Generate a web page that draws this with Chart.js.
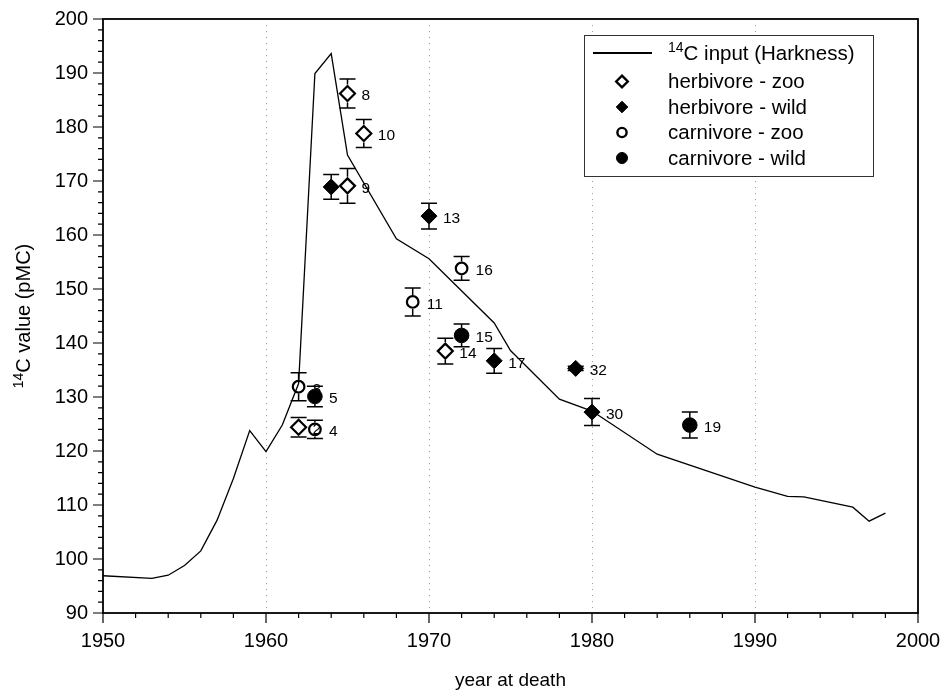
<!DOCTYPE html>
<html><head><meta charset="utf-8">
<script src="https://cdn.jsdelivr.net/npm/chart.js@4"></script>
<style>html,body{margin:0;padding:0;background:#fff}#wrap{width:943px;height:692px;position:relative}</style>
</head><body><div id="wrap"><canvas id="c"></canvas></div>
<script>
// Harkness 14C input curve
const harknessYears  = [1950,1953,1954,1955,1956,1957,1958,1959,1960,1961,1962,1963,1964,1965,1968,1970,1974,1975,1978,1980,1984,1990,1992,1993,1996,1997,1998];
const harknessValues = [96.9,96.4,97.0,98.8,101.5,107.2,114.9,123.8,119.9,124.8,132.5,189.9,193.6,174.8,159.3,155.6,143.7,138.6,129.6,127.4,119.4,113.3,111.6,111.5,109.6,107.0,108.5];

// herbivore - zoo (open diamond)
const hzYears  = [1962,1965,1965,1966,1971];
const hzValues = [124.4,186.2,169.1,178.8,138.5];
const hzErrors = [1.8,2.7,3.2,2.6,2.4];
const hzLabels = ['2','8','9','10','14'];

// herbivore - wild (filled diamond)
const hwYears  = [1964,1970,1974,1979,1980];
const hwValues = [168.9,163.5,136.7,135.3,127.2];
const hwErrors = [2.3,2.4,2.3,0.4,2.5];
const hwLabels = ['','13','17','32','30'];

// carnivore - zoo (open circle)
const czYears  = [1962,1963,1969,1972];
const czValues = [131.9,124.0,147.6,153.8];
const czErrors = [2.6,1.7,2.6,2.2];
const czLabels = ['3','4','11','16'];

// carnivore - wild (filled circle)
const cwYears  = [1963,1972,1986];
const cwValues = [130.1,141.4,124.8];
const cwErrors = [1.9,2.1,2.4];
const cwLabels = ['5','15','19'];

const xTicks = [1950,1960,1970,1980,1990,2000];
const yTicks = [90,100,110,120,130,140,150,160,170,180,190,200];

const FONT = '"Liberation Sans", Arial, sans-serif';

function pts(xs, ys){ return xs.map((x,i)=>({x:x,y:ys[i]})); }

const series = [
  {label:'herbivore - zoo', xs:hzYears, ys:hzValues, err:hzErrors, lab:hzLabels, style:'rectRot', r:7.5, bw:2.2, fill:'rgba(0,0,0,0)', gap:9},
  {label:'herbivore - wild', xs:hwYears, ys:hwValues, err:hwErrors, lab:hwLabels, style:'rectRot', r:8, bw:1, fill:'#000', gap:8},
  {label:'carnivore - zoo', xs:czYears, ys:czValues, err:czErrors, lab:czLabels, style:'circle', r:5.8, bw:2.2, fill:'rgba(0,0,0,0)', gap:7},
  {label:'carnivore - wild', xs:cwYears, ys:cwValues, err:cwErrors, lab:cwLabels, style:'circle', r:7.3, bw:1, fill:'#000', gap:7.3}
];

const datasets = series.map(s=>({
  label:s.label, data:pts(s.xs,s.ys), showLine:false,
  pointStyle:s.style, pointRadius:s.r, pointHoverRadius:s.r, pointBorderWidth:s.bw,
  pointBorderColor:'#000', pointBackgroundColor:s.fill, borderColor:'#000', backgroundColor:s.fill
}));
datasets.push({
  label:'14C input (Harkness)', data:pts(harknessYears,harknessValues), showLine:true,
  borderColor:'#000', borderWidth:1.3, pointRadius:0, tension:0, fill:false
});

const decor = {
  id:'decor',
  beforeDatasetsDraw(chart){
    const ctx = chart.ctx, xs = chart.scales.x, ys = chart.scales.y, a = chart.chartArea;
    ctx.save();
    // dotted vertical grid lines
    ctx.strokeStyle = '#9a9a9a'; ctx.lineWidth = 1; ctx.setLineDash([1,5]);
    xs.ticks.forEach(t=>{
      if (t.value <= xs.min || t.value >= xs.max) return;
      const px = Math.round(xs.getPixelForValue(t.value)) + 0.5;
      ctx.beginPath(); ctx.moveTo(px, a.top); ctx.lineTo(px, a.bottom); ctx.stroke();
    });
    ctx.setLineDash([]);
    // error bars
    ctx.strokeStyle = '#000'; ctx.lineWidth = 1.5;
    series.forEach(s=>{
      s.xs.forEach((x,i)=>{
        const px = xs.getPixelForValue(x);
        const py = ys.getPixelForValue(s.ys[i]);
        const top = ys.getPixelForValue(s.ys[i] + s.err[i]);
        const bot = ys.getPixelForValue(s.ys[i] - s.err[i]);
        ctx.beginPath();
        if (top < py - s.gap) { ctx.moveTo(px, top); ctx.lineTo(px, py - s.gap); }
        if (bot > py + s.gap) { ctx.moveTo(px, py + s.gap); ctx.lineTo(px, bot); }
        ctx.moveTo(px - 8, top); ctx.lineTo(px + 8, top);
        ctx.moveTo(px - 8, bot); ctx.lineTo(px + 8, bot);
        ctx.stroke();
      });
    });
    // point labels
    ctx.fillStyle = '#000'; ctx.font = '15.5px ' + FONT; ctx.textAlign = 'left'; ctx.textBaseline = 'middle';
    series.forEach(s=>{
      s.xs.forEach((x,i)=>{
        if (!s.lab[i]) return;
        ctx.fillText(s.lab[i], xs.getPixelForValue(x) + 14, ys.getPixelForValue(s.ys[i]) + 2.5);
      });
    });
    ctx.restore();
  },
  afterDraw(chart){
    const ctx = chart.ctx, xs = chart.scales.x, ys = chart.scales.y, a = chart.chartArea;
    ctx.save();
    // frame
    ctx.strokeStyle = '#000'; ctx.lineWidth = 1.8;
    ctx.strokeRect(a.left, a.top, a.right - a.left, a.bottom - a.top);
    // ticks
    ctx.lineWidth = 1.2;
    ctx.beginPath();
    for (let v = xs.min; v <= xs.max + 1e-9; v += 2) {
      const px = xs.getPixelForValue(v);
      const len = (Math.abs(v % 10) < 1e-9) ? 10 : 5;
      ctx.moveTo(px, a.bottom); ctx.lineTo(px, a.bottom + len);
    }
    for (let v = ys.min; v <= ys.max + 1e-9; v += 2) {
      const py = ys.getPixelForValue(v);
      const len = (Math.abs(v % 10) < 1e-9) ? 10 : 5;
      ctx.moveTo(a.left, py); ctx.lineTo(a.left - len, py);
    }
    ctx.stroke();
    // axis titles
    ctx.fillStyle = '#000';
    ctx.font = '19px ' + FONT; ctx.textAlign = 'center'; ctx.textBaseline = 'middle';
    ctx.fillText('year at death', (a.left + a.right) / 2, 681);
    ctx.save();
    ctx.translate(23, (a.top + a.bottom) / 2);
    ctx.rotate(-Math.PI / 2);
    const main = 'C value (pMC)';
    ctx.font = '14px ' + FONT; const wSup = ctx.measureText('14').width;
    ctx.font = '20px ' + FONT; const wMain = ctx.measureText(main).width;
    const x0 = -(wSup + wMain) / 2;
    ctx.textAlign = 'left'; ctx.textBaseline = 'alphabetic';
    ctx.font = '14px ' + FONT; ctx.fillText('14', x0, 0);
    ctx.font = '20px ' + FONT; ctx.fillText(main, x0 + wSup, 7);
    ctx.restore();
    // legend
    const L = 584, T = 35, R = 873, B = 176;
    ctx.fillStyle = '#fff'; ctx.fillRect(L, T, R - L, B - T);
    ctx.strokeStyle = '#333'; ctx.lineWidth = 1; ctx.strokeRect(L + 0.5, T + 0.5, R - L, B - T);
    const rowsY = [53, 81.5, 107, 132.5, 158];
    const mx = 622, tx = 668;
    ctx.strokeStyle = '#000'; ctx.lineWidth = 2;
    ctx.beginPath(); ctx.moveTo(593, rowsY[0]); ctx.lineTo(652, rowsY[0]); ctx.stroke();
    ctx.fillStyle = '#000'; ctx.textAlign = 'left'; ctx.textBaseline = 'middle';
    ctx.font = '14px ' + FONT; ctx.fillText('14', tx, rowsY[0] - 5);
    const w14 = ctx.measureText('14').width;
    ctx.font = '20.5px ' + FONT; ctx.fillText('C input (Harkness)', tx + w14, rowsY[0] + 1);
    series.forEach((s, i) => {
      const y = rowsY[i + 1];
      ctx.beginPath();
      if (s.style === 'rectRot') {
        const r = 5.8;
        ctx.moveTo(mx, y - r); ctx.lineTo(mx + r, y); ctx.lineTo(mx, y + r); ctx.lineTo(mx - r, y); ctx.closePath();
      } else {
        ctx.arc(mx, y, s.fill === '#000' ? 5.5 : 4.6, 0, Math.PI * 2);
      }
      if (s.fill === '#000') { ctx.fillStyle = '#000'; ctx.fill(); ctx.lineWidth = 1; ctx.stroke(); }
      else { ctx.lineWidth = 2.4; ctx.stroke(); }
      ctx.fillStyle = '#000'; ctx.font = '20.5px ' + FONT;
      ctx.fillText(s.label, tx, y + 1);
    });
    ctx.restore();
  }
};

new Chart(document.getElementById('c'), {
  type: 'scatter',
  data: { datasets: datasets },
  options: {
    responsive: true, maintainAspectRatio: false, animation: false,
    layout: { padding: { top: 19, right: 25, left: 0, bottom: 0 } },
    plugins: { legend: { display: false }, tooltip: { enabled: false } },
    scales: {
      x: {
        type: 'linear', min: 1950, max: 2000,
        afterBuildTicks: s => { s.ticks = xTicks.map(v => ({ value: v })); },
        afterFit: s => { s.height = 79; s.paddingLeft = 0; s.paddingRight = 0; },
        grid: { display: false, drawTicks: false },
        border: { display: false },
        ticks: { padding: 16, color: '#000', font: { size: 20, family: FONT }, maxRotation: 0, callback: v => String(v) }
      },
      y: {
        type: 'linear', min: 90, max: 200,
        afterBuildTicks: s => { s.ticks = yTicks.map(v => ({ value: v })); },
        afterFit: s => { s.width = 103; s.paddingTop = 0; s.paddingBottom = 0; },
        grid: { display: false, drawTicks: false },
        border: { display: false },
        ticks: { padding: 15, color: '#000', font: { size: 20, family: FONT }, callback: v => String(v) }
      }
    }
  },
  plugins: [decor]
});
</script>
</body></html>
